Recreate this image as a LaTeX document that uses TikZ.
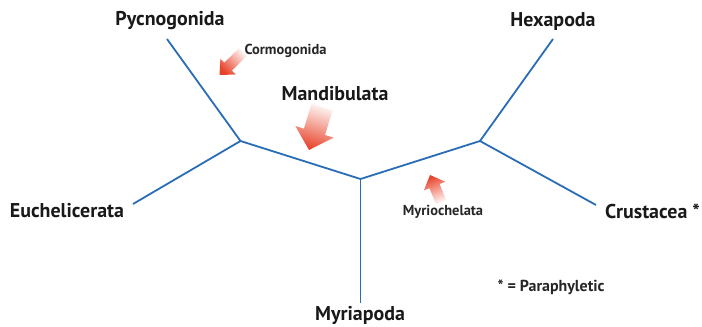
\documentclass[tikz,border=0pt]{standalone}
\usepackage{fontspec}
\setmainfont{PT Sans}
\usetikzlibrary{calc}
\definecolor{treeblue}{HTML}{2A6DB6}
\definecolor{arrowred}{HTML}{E8432A}
\tikzset{
  branch/.style={draw=treeblue, line width=1.8bp},
  taxon/.style={font=\bfseries\fontsize{20}{24}\selectfont, inner sep=0pt, text=black!90},
  clade/.style={font=\bfseries\fontsize{14.5}{17}\selectfont, inner sep=0pt, text=black!85},
  redarrow/.style={top color=arrowred, bottom color=arrowred!6, draw=none},
}
% #1 tail, #2 tip, #3 shaft half width, #4 head half width, #5 head length, #6 shading angle
\newcommand\blockarrow[6]{%
  \path[redarrow, shading angle=#6]
    ($(#1)!#3!90:(#2)$) -- ($($(#2)!#5!(#1)$)!#3!90:(#2)$) -- ($($(#2)!#5!(#1)$)!#4!90:(#2)$)
    -- (#2) -- ($($(#2)!#5!(#1)$)!#4!-90:(#2)$) -- ($($(#2)!#5!(#1)$)!#3!-90:(#2)$)
    -- ($(#1)!#3!-90:(#2)$) -- cycle;}
\begin{document}
\begin{tikzpicture}[x=1bp,y=-1bp]
\useasboundingbox (0,0) rectangle (702,326);
% tree junctions and branch ends
\coordinate (L) at (240.5,141);
\coordinate (C) at (360.5,179);
\coordinate (R) at (480,141);
\coordinate (pyE) at (167,39);
\coordinate (euE) at (133,204);
\coordinate (myE) at (360.5,303);
\coordinate (hxE) at (553,39);
\coordinate (crE) at (596,205);
\draw[branch] (pyE) -- (L) -- (euE);
\draw[branch] (L) -- (C) -- (R);
\draw[branch] (C) -- (myE);
\draw[branch] (hxE) -- (R) -- (crE);
% labels
\node[taxon] (py) at (170,21) {Pycnogonida};
\node[taxon] (hx) at (553,22) {Hexapoda};
\node[taxon] (md) at (335,94) {Mandibulata};
\node[taxon] (eu) at (67,211) {Euchelicerata};
\node[taxon, anchor=west] (cr) at (605,211) {Crustacea *};
\node[taxon] (my) at (360,315.5) {Myriapoda};
\node[clade] (co) at (285.5,50.5) {Cormogonida};
\node[clade] (mc) at (443,212) {Myriochelata};
\node[clade, font=\bfseries\fontsize{16}{19}\selectfont] (pa) at (551,287) {* = Paraphyletic};
% arrows
\coordinate (coT) at (243,52);
\coordinate (coP) at (219.5,75);
\coordinate (mdT) at (322,107);
\coordinate (mdP) at (309,150);
\coordinate (mcT) at (441,202);
\coordinate (mcP) at (430,175);
\blockarrow{coT}{coP}{5.5bp}{11bp}{12bp}{134}
\blockarrow{mdT}{mdP}{11bp}{20bp}{19bp}{163}
\blockarrow{mcT}{mcP}{5.5bp}{11.5bp}{12bp}{22}
\end{tikzpicture}
\end{document}
